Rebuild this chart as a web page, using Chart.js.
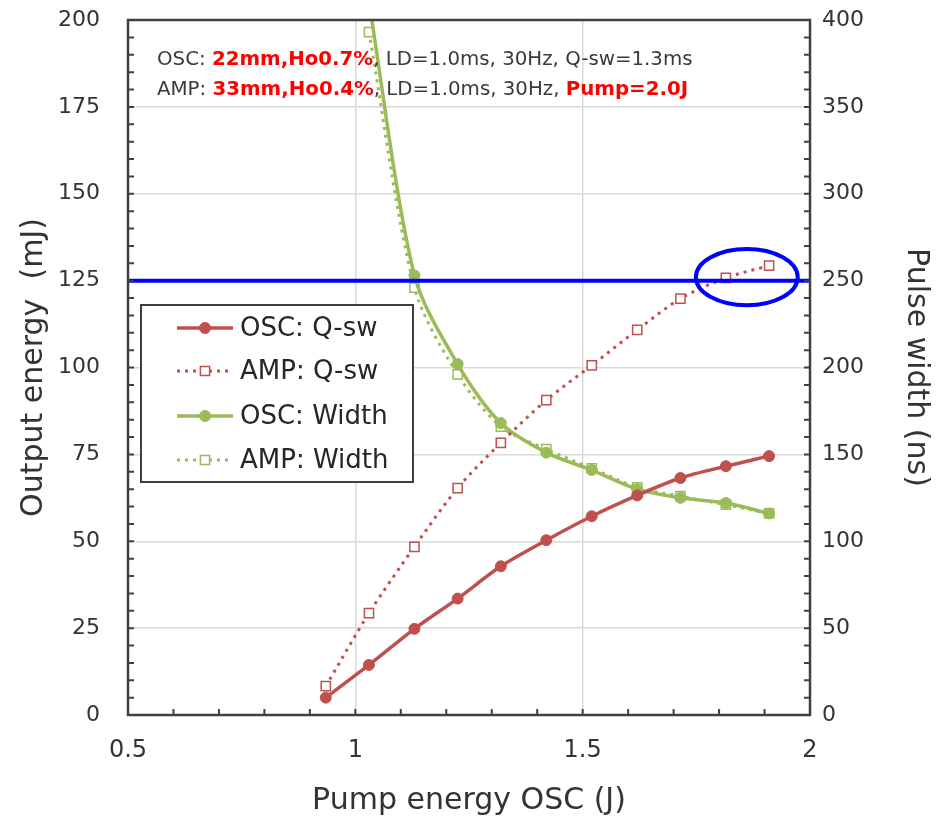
<!DOCTYPE html>
<html>
<head>
<meta charset="utf-8">
<script src="https://cdn.jsdelivr.net/npm/chart.js@4.4.1/dist/chart.umd.min.js"></script>
<style>
  html,body{margin:0;padding:0;background:#fff;}
  #wrap{width:946px;height:823px;position:relative;}
</style>
</head>
<body>
<div id="wrap"><canvas id="c" width="946" height="823"></canvas></div>
<script>
// ---- data ----
const pumpOSC   = [0.935, 1.03, 1.13, 1.225, 1.32, 1.42, 1.52, 1.62, 1.715, 1.815, 1.91];
const oscQsw    = [5.0, 14.4, 24.8, 33.5, 42.8, 50.3, 57.2, 63.2, 68.2, 71.6, 74.5];
const ampQsw    = [8.3, 29.3, 48.4, 65.3, 78.3, 90.6, 100.6, 110.8, 119.8, 125.8, 129.3];
const oscWidth  = [null, 410, 253, 202, 168, 151, 141, 130, 125, 122, 116];
const ampWidth  = [null, 393, 246, 196, 166, 153, 142, 131, 126, 121, 116];
const seriesNames = ['OSC: Q-sw', 'AMP: Q-sw', 'OSC: Width', 'AMP: Width'];
const refLevel = 125;                       // blue horizontal reference (left axis, mJ)
const ellipseMark = {x: 1.861, y: 126, rx: 0.112, ry: 8.1};   // blue ellipse in data units
const note1 = [['OSC: ', false], ['22mm,Ho0.7%', true], [', LD=1.0ms, 30Hz, Q-sw=1.3ms', false]];
const note2 = [['AMP: ', false], ['33mm,Ho0.4%', true], [', LD=1.0ms, 30Hz, ', false], ['Pump=2.0J', true]];

const RED = '#C0504D', GREEN = '#9BBB59';
const FONT = '"DejaVu Sans", "Noto Sans", sans-serif';
const TXT = '#333333';

function pts(xs, ys){ const o=[]; xs.forEach((v,i)=>{ if(ys[i]!==null) o.push({x:v,y:ys[i]}); }); return o; }

const datasets = [
  {label: seriesNames[0], data: pts(pumpOSC, oscQsw), yAxisID:'y', borderColor:RED, backgroundColor:RED,
   borderWidth:3.5, pointStyle:'circle', pointRadius:5.5, pointBackgroundColor:RED, pointBorderColor:RED, pointBorderWidth:1},
  {label: seriesNames[1], data: pts(pumpOSC, ampQsw), yAxisID:'y', borderColor:RED, backgroundColor:'#fff',
   borderWidth:3, borderDash:[3,5], pointStyle:'rect', pointRadius:6.5, pointBackgroundColor:'#fff', pointBorderColor:RED, pointBorderWidth:1.5},
  {label: seriesNames[2], data: pts(pumpOSC, oscWidth), yAxisID:'y1', borderColor:GREEN, backgroundColor:GREEN,
   borderWidth:3.5, pointStyle:'circle', pointRadius:5.5, pointBackgroundColor:GREEN, pointBorderColor:GREEN, pointBorderWidth:1},
  {label: seriesNames[3], data: pts(pumpOSC, ampWidth), yAxisID:'y1', borderColor:GREEN, backgroundColor:'#fff',
   borderWidth:3, borderDash:[3,5], pointStyle:'rect', pointRadius:6.5, pointBackgroundColor:'#fff', pointBorderColor:GREEN, pointBorderWidth:1.5}
];
datasets.forEach(d=>{ d.showLine = true; d.tension = 0.3; d.pointHoverRadius = d.pointRadius; });

const AXIS = '#404040';

const overlay = {
  id: 'overlay',
  afterDatasetsDraw(chart){
    const {ctx, chartArea:a, scales:{x, y}} = chart;
    ctx.save();
    ctx.strokeStyle = '#0000FF'; ctx.lineWidth = 4;
    const yy = y.getPixelForValue(refLevel);
    ctx.beginPath(); ctx.moveTo(a.left, yy); ctx.lineTo(a.right, yy); ctx.stroke();
    const cx = x.getPixelForValue(ellipseMark.x), cy = y.getPixelForValue(ellipseMark.y);
    const rx = Math.abs(x.getPixelForValue(ellipseMark.x + ellipseMark.rx) - cx);
    const ry = Math.abs(y.getPixelForValue(ellipseMark.y + ellipseMark.ry) - cy);
    ctx.beginPath(); ctx.ellipse(cx, cy, rx, ry, 0, 0, Math.PI*2); ctx.stroke();
    ctx.restore();
  },
  afterDraw(chart){
    const {ctx, chartArea:a, scales:{x, y, y1}} = chart;
    ctx.save();
    // frame
    ctx.strokeStyle = AXIS; ctx.lineWidth = 2.5;
    ctx.strokeRect(a.left, a.top, a.right - a.left, a.bottom - a.top);
    // inward ticks
    ctx.lineWidth = 2;
    ctx.beginPath();
    for (let v = 0; v <= 200.001; v += 5) { const p = y.getPixelForValue(v); ctx.moveTo(a.left, p); ctx.lineTo(a.left + 6, p); }
    for (let v = 0; v <= 400.001; v += 10) { const p = y1.getPixelForValue(v); ctx.moveTo(a.right, p); ctx.lineTo(a.right - 6, p); }
    for (let v = 0.5; v <= 2.0001; v += 0.1) { const p = x.getPixelForValue(v); ctx.moveTo(p, a.bottom); ctx.lineTo(p, a.bottom - 6); }
    ctx.stroke();

    // legend box
    const L = {x:141, y:305, w:272, h:177};
    ctx.fillStyle = '#fff'; ctx.fillRect(L.x, L.y, L.w, L.h);
    ctx.strokeStyle = '#404040'; ctx.lineWidth = 2; ctx.strokeRect(L.x, L.y, L.w, L.h);
    const rows = [328, 371, 416, 460];
    chart.data.datasets.forEach((d, i) => {
      const ry = rows[i];
      ctx.save();
      ctx.strokeStyle = d.borderColor; ctx.lineWidth = d.borderWidth;
      ctx.setLineDash(d.borderDash || []);
      ctx.beginPath(); ctx.moveTo(177, ry); ctx.lineTo(233, ry); ctx.stroke();
      ctx.setLineDash([]);
      ctx.fillStyle = d.pointBackgroundColor; ctx.strokeStyle = d.pointBorderColor; ctx.lineWidth = d.pointBorderWidth;
      Chart.helpers.drawPoint(ctx, {pointStyle: d.pointStyle, radius: d.pointRadius, borderWidth: d.pointBorderWidth, rotation:0}, 205, ry);
      ctx.restore();
      ctx.fillStyle = '#262626'; ctx.font = '26px ' + FONT; ctx.textBaseline = 'middle'; ctx.textAlign = 'left';
      ctx.fillText(d.label, 240, ry + 1);
    });

    // annotation text
    const drawNote = (parts, xx, yy) => {
      let cx = xx;
      ctx.textBaseline = 'alphabetic'; ctx.textAlign = 'left';
      parts.forEach(([t, hi]) => {
        ctx.font = (hi ? 'bold ' : '') + '19.8px ' + FONT;
        ctx.fillStyle = hi ? '#FF0000' : '#3a3a3a';
        ctx.fillText(t, cx, yy);
        cx += ctx.measureText(t).width;
      });
    };
    drawNote(note1, 157, 65);
    drawNote(note2, 157, 95);
    ctx.restore();
  }
};

const zeroPad = s => { s.paddingTop = 0; s.paddingBottom = 0; s.paddingLeft = 0; s.paddingRight = 0; };

new Chart(document.getElementById('c'), {
  type: 'scatter',
  data: { datasets },
  options: {
    responsive: false,
    animation: false,
    layout: { padding: { top: 20, left: 0, right: 0, bottom: 0 } },
    plugins: { legend: { display: false }, tooltip: { enabled: false } },
    scales: {
      x: {
        type: 'linear', min: 0.5, max: 2,
        ticks: { stepSize: 0.5, color: TXT, font: { family: FONT, size: 24 }, padding: 21, callback: v => String(v) },
        grid: { color: '#d9d9d9', lineWidth: 1.5, drawTicks: false },
        border: { display: false },
        title: { display: true, text: 'Pump energy OSC (J)', color: TXT, font: { family: FONT, size: 30 }, padding: { top: 0, bottom: 4 } },
        afterFit: s => { s.height = 108; zeroPad(s); }
      },
      y: {
        type: 'linear', position: 'left', min: 0, max: 200,
        ticks: { stepSize: 25, color: TXT, font: { family: FONT, size: 22 }, padding: 28 },
        grid: { color: '#d9d9d9', lineWidth: 1.5, drawTicks: false },
        border: { display: false },
        title: { display: true, text: 'Output energy  (mJ)', color: TXT, font: { family: FONT, size: 30 }, padding: { top: 16, bottom: 0 } },
        afterFit: s => { s.width = 128; zeroPad(s); }
      },
      y1: {
        type: 'linear', position: 'right', min: 0, max: 400,
        ticks: { stepSize: 50, color: TXT, font: { family: FONT, size: 22 }, padding: 12 },
        grid: { display: false, drawTicks: false },
        border: { display: false },
        title: { display: true, text: 'Pulse width (ns)', color: TXT, font: { family: FONT, size: 30 }, padding: { top: 12, bottom: 0 } },
        afterFit: s => { s.width = 136; zeroPad(s); }
      }
    }
  },
  plugins: [overlay]
});
</script>
</body>
</html>
